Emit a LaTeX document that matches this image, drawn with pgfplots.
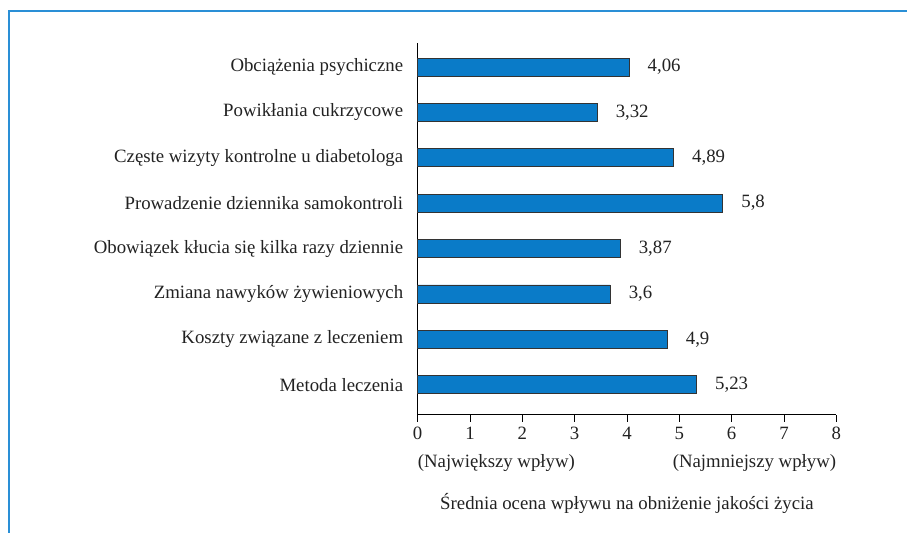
\documentclass[border=0pt]{standalone}
\usepackage{fontspec}
\setmainfont{Liberation Serif}
\usepackage{pgfplots}
\pgfplotsset{compat=1.18}
\definecolor{barblue}{HTML}{0A7BC8}
\definecolor{frameblue}{HTML}{2A8FD6}
\definecolor{txt}{HTML}{222222}
\begin{document}
\begin{tikzpicture}[font=\fontsize{18.8pt}{22pt}\selectfont, text=txt]
\begin{axis}[
  at={(0,0)}, anchor=south west,
  scale only axis,
  width=419pt, height=372pt,
  xbar, bar width=18pt,
  xmin=0, xmax=8, ymin=-0.66, ymax=7.53,
  axis x line=bottom, axis y line=left,
  axis line style={-, black, line width=0.8pt},
  xtick={0,1,2,3,4,5,6,7,8},
  tick align=outside,
  major tick length=7pt,
  tick style={black, line width=0.8pt},
  ytick={0,1,2,3,4,5,6,7},
  ytick style={draw=none},
  yticklabels={Metoda leczenia, Koszty związane z leczeniem, Zmiana nawyków żywieniowych, Obowiązek kłucia się kilka razy dziennie, Prowadzenie dziennika samokontroli, Częste wizyty kontrolne u diabetologa, Powikłania cukrzycowe, Obciążenia psychiczne},
  yticklabel style={xshift=-4pt},
  xticklabel style={yshift=-2pt},
  /pgf/number format/assume math mode=true,
  point meta=explicit symbolic,
  nodes near coords={\pgfplotspointmeta},
  nodes near coords style={anchor=west, xshift=15pt},
  clip=false,
]
% bar lengths as drawn in the reference; labels as printed
\addplot[fill=barblue, draw=black!80, line width=0.6pt] coordinates {
  (5.33,0) [5,23]
  (4.77,1) [4,9]
  (3.68,2) [3,6]
  (3.87,3) [3,87]
  (5.83,4) [5,8]
  (4.89,5) [4,89]
  (3.43,6) [3,32]
  (4.04,7) [4,06]
};
\node[anchor=west, yshift=-48pt, inner sep=0pt] at (rel axis cs:0,0) {(Największy wpływ)};
\node[anchor=east, yshift=-48pt, inner sep=0pt] at (rel axis cs:1,0) {(Najmniejszy wpływ)};
\node[yshift=-89pt, inner sep=0pt] at (rel axis cs:0.5,0) {Średnia ocena wpływu na obniżenie jakości życia};
\end{axis}
\draw[frameblue, line width=1.5pt] (-409pt,-118pt) -- (-409pt,404pt) -- (490pt,404pt);
\useasboundingbox (-418pt,-118pt) rectangle (490pt,415pt);
\end{tikzpicture}
\end{document}
